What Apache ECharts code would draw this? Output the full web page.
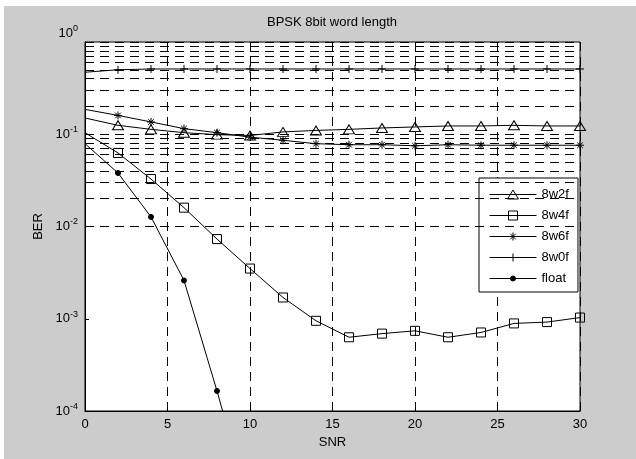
<!DOCTYPE html>
<html>
<head>
<meta charset="utf-8">
<script src="https://cdn.jsdelivr.net/npm/echarts@6/dist/echarts.min.js"></script>
<style>
html,body{margin:0;padding:0;background:#fff;}
#c{width:636px;height:459px;}
</style>
</head>
<body>
<div id="c"></div>
<script>
// ---- data ----
var snr = [0, 2, 4, 6, 8, 10, 12, 14, 16, 18, 20, 22, 24, 26, 28, 30];
var ber8w2f = [0.15, 0.125, 0.113, 0.104, 0.099, 0.097, 0.106, 0.110, 0.113, 0.117, 0.120, 0.123, 0.123, 0.125, 0.123, 0.123];
var ber8w4f = [0.104, 0.0627, 0.0327, 0.016, 0.0073, 0.0035, 0.0017, 0.00095, 0.00063, 0.00069, 0.00074, 0.00063, 0.00071, 0.00089, 0.00092, 0.00103];
var ber8w6f = [0.186, 0.16, 0.136, 0.115, 0.104, 0.093, 0.086, 0.079, 0.077, 0.077, 0.075, 0.077, 0.076, 0.076, 0.076, 0.076];
var ber8w0f = [0.47, 0.50, 0.51, 0.51, 0.51, 0.51, 0.51, 0.51, 0.51, 0.51, 0.51, 0.51, 0.51, 0.51, 0.51, 0.51];
var snrFloat = [0, 2, 4, 6, 8, 10];
var berFloat = [0.079, 0.038, 0.0127, 0.0026, 0.000165, 0.0000087];
var xTicks = [0, 5, 10, 15, 20, 25, 30];
var yDecades = [-4, -3, -2, -1, 0];
var seriesNames = ['8w2f', '8w4f', '8w6f', '8w0f', 'float'];
var titleText = 'BPSK 8bit word length';
var xName = 'SNR';
var yName = 'BER';

// ---- build ----
var FONT = '"Liberation Sans", Arial, sans-serif';
function pts(xs, ys) {
  return xs.map(function (x, i) {
    var d = { value: [x, ys[i]] };
    if (x === 0) d.symbol = 'none';
    return d;
  });
}
// horizontal log grid lines (1..9 x each decade)
var gridVals = [];
for (var d = 0; d < yDecades.length - 1; d++) {
  for (var k = 1; k <= 9; k++) gridVals.push(k * Math.pow(10, yDecades[d]));
}
gridVals.push(Math.pow(10, yDecades[yDecades.length - 1]));
var dash = [9, 6];

var starPath = 'path://M5,0L5,10M0,5L10,5M1.5,1.5L8.5,8.5M8.5,1.5L1.5,8.5';
var plusPath = 'path://M5,0L5,10M0,5L10,5';

// legend icons (line sample + marker), 47 x 11 box
var box = 'M0,0L0,0M47,11L47,11';
var ln = 'M0,5.5L47,5.5';
var legendIcons = [
  'path://' + box + ln + 'M18,10L29,10L23.5,1Z',
  'path://' + box + ln + 'M19,1L28,1L28,10L19,10Z',
  'path://' + box + ln + 'M23.5,1.5L23.5,9.5M19.5,5.5L27.5,5.5M20.7,2.7L26.3,8.3M26.3,2.7L20.7,8.3',
  'path://' + box + ln + 'M23.5,1.5L23.5,9.5M19.5,5.5L27.5,5.5',
  'path://' + box + ln + 'M21,5.5A2.5,2.5,0,1,0,26,5.5A2.5,2.5,0,1,0,21,5.5Z'
];

function mk(name, xs, ys, symbol, size, fill) {
  return {
    name: name, type: 'line', data: pts(xs, ys),
    symbol: symbol, symbolSize: size, showAllSymbol: true,
    lineStyle: { color: '#000', width: 1 },
    itemStyle: { color: fill, borderColor: '#000', borderWidth: 1 },
    emphasis: { disabled: true },
    clip: true, z: 5, animation: false
  };
}

var series = [
  mk(seriesNames[0], snr, ber8w2f, 'triangle', [11, 9], 'rgba(0,0,0,0)'),
  mk(seriesNames[1], snr, ber8w4f, 'rect', 9, 'rgba(0,0,0,0)'),
  mk(seriesNames[2], snr, ber8w6f, starPath, 8, 'rgba(0,0,0,0)'),
  mk(seriesNames[3], snr, ber8w0f, plusPath, 8, 'rgba(0,0,0,0)'),
  mk(seriesNames[4], snrFloat, berFloat, 'circle', 5, '#000')
];
// grid lines series (markLine through axis scale)
series.push({
  name: '_grid', type: 'line', data: [], silent: true, z: 1,
  markLine: {
    silent: true, symbol: ['none', 'none'], animation: false,
    label: { show: false },
    lineStyle: { color: '#000', width: 1, type: dash },
    emphasis: { disabled: true },
    data: gridVals.map(function (v) { return { yAxis: v }; })
  }
});

var chart = echarts.init(document.getElementById('c'), null, { renderer: 'canvas' });
chart.setOption({
  animation: false,
  backgroundColor: 'transparent',
  textStyle: { fontFamily: FONT, color: '#000' },
  graphic: [{
    type: 'rect', z: -10, silent: true,
    shape: { x: 4, y: 6, width: 632, height: 453 },
    style: { fill: '#cccccc' }
  }],
  title: {
    text: titleText, left: 332, top: 16, textAlign: 'center', padding: 0,
    textStyle: { fontFamily: FONT, fontSize: 13, fontWeight: 'normal', color: '#000' }
  },
  grid: {
    left: 85, right: 56, top: 42, bottom: 48,
    show: true, backgroundColor: '#fff', borderColor: '#000', borderWidth: 1
  },
  legend: {
    data: seriesNames.map(function (n, i) { return { name: n, icon: legendIcons[i] }; }),
    orient: 'vertical',
    left: 479, top: 178,
    padding: [10, 9, 7, 10], itemGap: 8, itemWidth: 47, itemHeight: 11,
    symbolKeepAspect: true,
    itemStyle: { borderColor: '#000', borderWidth: 1 },
    backgroundColor: '#fff', borderColor: '#000', borderWidth: 1, borderRadius: 0,
    textStyle: { fontFamily: FONT, fontSize: 13, color: '#000' },
    selectedMode: false
  },
  xAxis: {
    type: 'value', min: 0, max: 30, interval: 5,
    name: xName, nameLocation: 'middle', nameGap: 24,
    nameTextStyle: { fontFamily: FONT, fontSize: 13, color: '#000' },
    axisLine: { lineStyle: { color: '#000', width: 1 } },
    axisTick: { inside: true, length: 4, lineStyle: { color: '#000' } },
    axisLabel: { fontFamily: FONT, fontSize: 13, color: '#000', margin: 7,
      formatter: function (v) { return xTicks.indexOf(v) >= 0 ? String(v) : ''; } },
    splitLine: { show: true, lineStyle: { color: '#000', width: 1, type: dash } }
  },
  yAxis: {
    type: 'log', logBase: 10, min: Math.pow(10, yDecades[0]), max: Math.pow(10, yDecades[yDecades.length - 1]),
    name: yName, nameLocation: 'middle', nameGap: 40,
    nameTextStyle: { fontFamily: FONT, fontSize: 13, color: '#000' },
    axisLine: { show: true, lineStyle: { color: '#000', width: 1 } },
    axisTick: { inside: true, length: 4, lineStyle: { color: '#000' } },
    axisLabel: {
      fontFamily: FONT, color: '#000', margin: 7,
      formatter: function (v) {
        var e = Math.round(Math.log10(v));
        if (e === 0) return '{bt|10}{st|' + e + '}';
        return '{b|10}{s|' + e + '}';
      },
      rich: {
        b: { fontFamily: FONT, fontSize: 13, color: '#000' },
        s: { fontFamily: FONT, fontSize: 9, color: '#000', padding: [0, 0, 9, 0] },
        bt: { fontFamily: FONT, fontSize: 13, color: '#000', padding: [0, 0, 18, 0] },
        st: { fontFamily: FONT, fontSize: 9, color: '#000', padding: [0, 0, 27, 0] }
      }
    },
    splitLine: { show: false }
  },
  series: series
});
</script>
</body>
</html>
